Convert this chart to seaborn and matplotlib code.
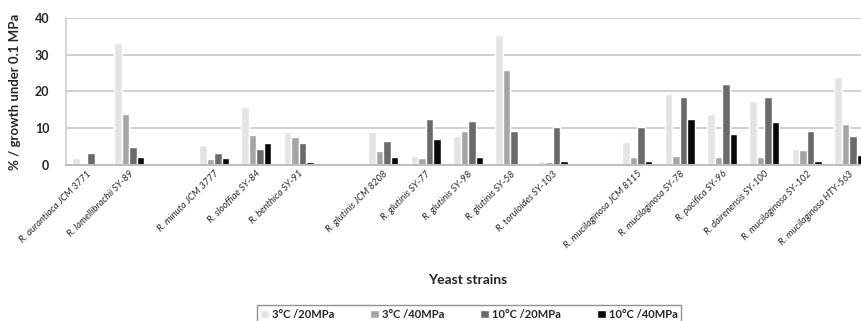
import matplotlib
matplotlib.use("Agg")
import matplotlib.pyplot as plt
import pandas as pd
import seaborn as sns

# Strains, grouped by species cluster (empty slot between clusters)
group_a = ["R. aurantiaca JCM 3771", "R. lamellibrachii SY-89"]
group_b = ["R. minuta JCM 3777", "R. slooffiae SY-84", "R. benthica SY-91"]
group_c = ["R. glutinis JCM 8208", "R. glutinis SY-77", "R. glutinis SY-98",
           "R. glutinis SY-58", "R. toruloides SY-103"]
group_d = ["R. mucilaginosa JCM 8115", "R. mucilaginosa SY-78", "R. pacifica SY-96",
           "R. dairenensis SY-100", "R. mucilaginosa SY-102", "R. mucilaginosa HTY-563"]

conditions = ["3°C /20MPa", "3°C /40MPa", "10°C /20MPa", "10°C /40MPa"]

# % growth relative to 0.1 MPa, one list per condition (strain order as above)
c3_20 = [1.8, 33.2, 5.4, 15.8, 9.1, 8.9, 2.4, 7.9, 35.5, 1.2, 6.3, 19.3, 13.9, 17.3, 4.3, 24.0]
c3_40 = [0.2, 14.0, 1.5, 8.1, 7.5, 3.9, 1.8, 9.2, 25.8, 0.9, 2.1, 2.4, 2.1, 2.1, 4.2, 11.1]
c10_20 = [3.2, 4.9, 3.3, 4.3, 5.9, 6.5, 12.6, 11.9, 9.2, 10.4, 10.4, 18.4, 22.0, 18.4, 9.2, 7.9]
c10_40 = [0.0, 2.2, 1.8, 5.9, 0.9, 2.1, 7.2, 2.1, 0.6, 1.2, 1.2, 12.6, 8.3, 11.6, 1.2, 2.8]

yticks = [0, 10, 20, 30, 40]

strains = group_a + group_b + group_c + group_d
slots = group_a + ["_gap1"] + group_b + ["_gap2"] + group_c + ["_gap3"] + group_d
slot_labels = [s if not s.startswith("_gap") else "" for s in slots]

rows = []
for cond, vals in zip(conditions, [c3_20, c3_40, c10_20, c10_40]):
    for s, v in zip(strains, vals):
        rows.append({"strain": s, "condition": cond, "value": v})
df = pd.DataFrame(rows)

sns.set_style("white")
plt.rcParams["font.family"] = ["Lato", "DejaVu Sans"]

fig = plt.figure(figsize=(8.62, 3.21), dpi=100)
ax = fig.add_axes([0.0765, 0.486, 0.933, 0.458])

palette = ["#e4e4e4", "#a5a5a5", "#6a6a6a", "#080808"]
sns.barplot(data=df, x="strain", y="value", hue="condition", order=slots,
            hue_order=conditions, palette=palette, width=0.71, saturation=1,
            errorbar=None, ax=ax)

ax.set_xlim(-0.5, len(slots) - 0.5)
ax.set_ylim(0, 40)
ax.set_yticks(yticks)
ax.set_yticklabels([str(t) for t in yticks], fontsize=9, fontweight="bold")
ax.tick_params(axis="y", length=0, pad=12)
ax.yaxis.grid(True, color="#cfcfcf", lw=1.4)
ax.set_axisbelow(True)

ax.set_xticks(range(len(slots)))
ax.set_xticklabels(slot_labels, rotation=45, ha="right", rotation_mode="anchor",
                   fontsize=6.8, fontstyle="italic")
ax.tick_params(axis="x", length=0, pad=3)

for side in ["top", "right"]:
    ax.spines[side].set_visible(False)
ax.spines["left"].set_color("#cfcfcf")
ax.spines["bottom"].set_color("#bdbdbd")
ax.spines["left"].set_linewidth(1.2)
ax.spines["bottom"].set_linewidth(1.4)

ax.set_ylabel("% / growth under 0.1 MPa", fontsize=9.5, fontweight="bold", labelpad=10)
ax.set_xlabel("")
fig.text(0.542, 0.128, "Yeast strains", ha="center", va="center",
         fontsize=10, fontweight="bold")

handles, labels = ax.get_legend_handles_labels()
ax.get_legend().remove()
fig.legend(handles, labels, ncol=4, loc="upper center", bbox_to_anchor=(0.544, 0.066),
           frameon=True, fancybox=False, edgecolor="#777777",
           prop={"weight": "bold", "size": 8}, handlelength=0.8, handleheight=0.8,
           handletextpad=0.3, columnspacing=3.2, borderpad=0.3)

fig.savefig("out.png", dpi=100)
